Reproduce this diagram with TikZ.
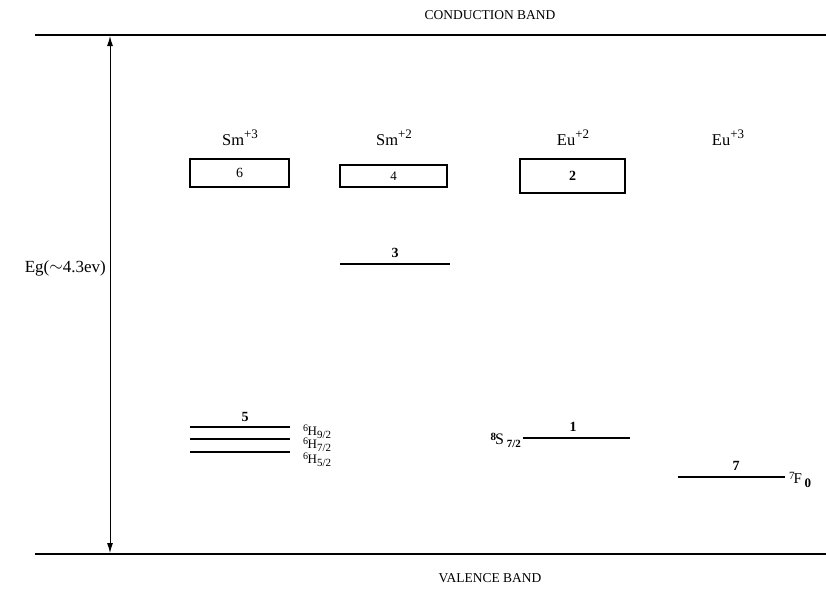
\documentclass[tikz,border=0pt]{standalone}
\usepackage{fontspec}
\setmainfont{Liberation Serif}
\usetikzlibrary{arrows.meta}
\newcommand{\ionlab}[2]{#1\raisebox{7pt}{\fontsize{13}{13}\selectfont #2}}
\begin{document}
\begin{tikzpicture}[x=1pt,y=-1pt,
  band/.style={line width=1.6pt},
  lvl/.style={line width=1.5pt},
  lbox/.style={draw,line width=1.1pt,minimum height=#1,inner sep=0pt},
  txt/.style={font=\fontsize{13.5}{15}\selectfont,inner sep=0pt},
  ion/.style={font=\fontsize{16.5}{18}\selectfont,inner sep=0pt},
  num/.style={font=\fontsize{14}{15}\selectfont\bfseries,inner sep=0pt},
  term/.style={font=\fontsize{13}{14}\selectfont,inner sep=0pt,anchor=west},
  gaparrow/.style={line width=1pt,{Latex[length=10pt,width=6pt,fill=black]}-{Latex[length=10pt,width=6pt,fill=black]}}]
\useasboundingbox (0,0) rectangle (826,592);
% bands
\coordinate (cbl) at (35,35); \coordinate (cbr) at (826,35);
\coordinate (vbl) at (35,554); \coordinate (vbr) at (826,554);
\draw[band] (cbl) -- (cbr);
\draw[band] (vbl) -- (vbr);
\node[txt] (cb) at (490,15) {CONDUCTION BAND};
\node[txt] (vb) at (490,578) {VALENCE BAND};
% gap arrow
\coordinate (at) at (110,36); \coordinate (ab) at (110,553);
\draw[gaparrow] (at) -- (ab);
\node[ion,anchor=east,font=\fontsize{17}{19}\selectfont] (eg) at (106,268) {Eg(\raisebox{1pt}{$\sim$}4.3ev)};
% ion labels
\node[ion] (sm3) at (240,138) {\ionlab{Sm}{+3}};
\node[ion] (sm2) at (394,138) {\ionlab{Sm}{+2}};
\node[ion] (eu2) at (573,138) {\ionlab{Eu}{+2}};
\node[ion] (eu3) at (728,138) {\ionlab{Eu}{+3}};
% boxes
\node[lbox=28pt,minimum width=99pt,num,font=\fontsize{14}{15}\selectfont] (b6) at (239.5,173) {6};
\node[lbox=22pt,minimum width=107pt,num,font=\fontsize{13}{14}\selectfont] (b4) at (393.5,176) {4};
\node[lbox=34pt,minimum width=105pt,num] (b2) at (572.5,176) {2};
% level 3
\coordinate (l3a) at (340,264); \coordinate (l3b) at (450,264);
\draw[lvl] (l3a) -- (l3b);
\node[num] (n3) at (395,253) {3};
% level 5 group
\coordinate (l5a) at (190,427); \coordinate (l5b) at (290,427);
\coordinate (l5c) at (190,439); \coordinate (l5d) at (290,439);
\coordinate (l5e) at (190,452); \coordinate (l5f) at (290,452);
\draw[lvl] (l5a) -- (l5b);
\draw[lvl] (l5c) -- (l5d);
\draw[lvl] (l5e) -- (l5f);
\node[num] (n5) at (245,417) {5};
\node[term] (h9) at (303,432) {\raisebox{4pt}{\fontsize{10}{10}\selectfont 6}\kern-0.5ptH\raisebox{-3pt}{\fontsize{11}{11}\selectfont 9/2}};
\node[term] (h7) at (303,445) {\raisebox{4pt}{\fontsize{10}{10}\selectfont 6}\kern-0.5ptH\raisebox{-3pt}{\fontsize{11}{11}\selectfont 7/2}};
\node[term] (h5) at (303,460) {\raisebox{4pt}{\fontsize{10}{10}\selectfont 6}\kern-0.5ptH\raisebox{-3pt}{\fontsize{11}{11}\selectfont 5/2}};
% level 1
\coordinate (l1a) at (523,438); \coordinate (l1b) at (630,438);
\draw[lvl] (l1a) -- (l1b);
\node[num] (n1) at (573,427) {1};
\node[term,anchor=east,font=\fontsize{16}{17}\selectfont] (s7) at (521,440) {\raisebox{4pt}{\fontsize{11}{11}\selectfont\bfseries 8}\kern-1ptS\,\raisebox{-3pt}{\fontsize{11}{11}\selectfont\bfseries 7/2}};
% level 7
\coordinate (l7a) at (678,477); \coordinate (l7b) at (785,477);
\draw[lvl] (l7a) -- (l7b);
\node[num] (n7) at (736,466) {7};
\node[term,font=\fontsize{15}{16}\selectfont] (f0) at (789,480) {\raisebox{4pt}{\fontsize{11}{11}\selectfont 7}\kern-1ptF\,\raisebox{-3.5pt}{\fontsize{13}{13}\selectfont\bfseries 0}};
\end{tikzpicture}
\end{document}
